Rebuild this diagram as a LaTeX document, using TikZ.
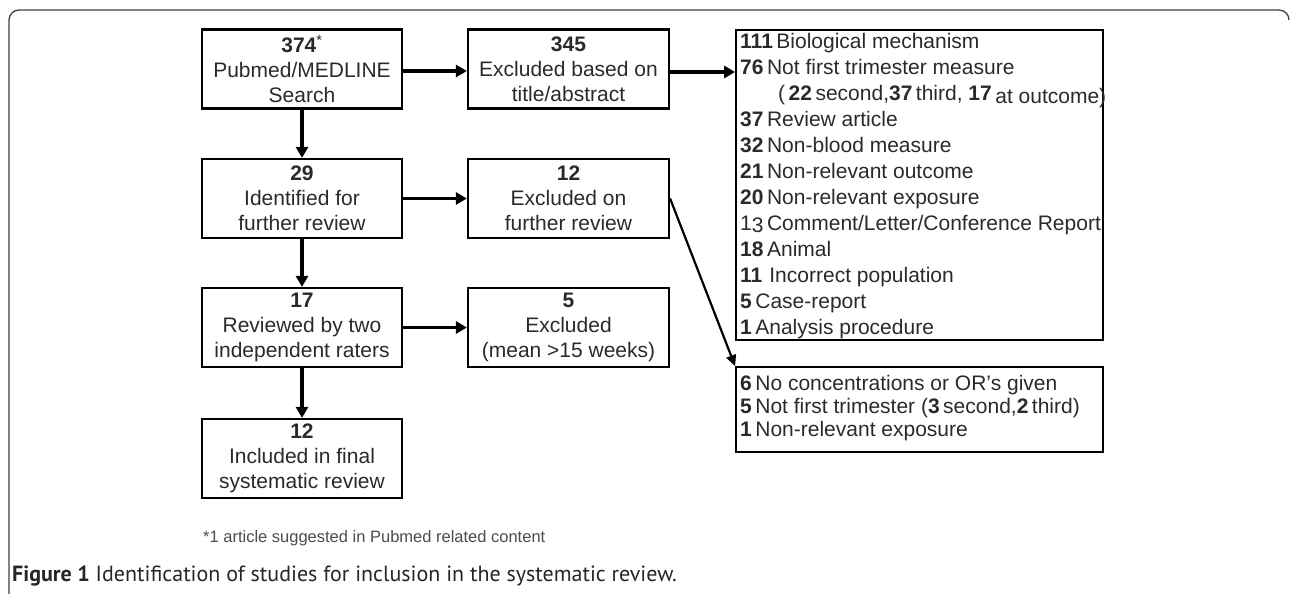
\documentclass[tikz,border=0pt]{standalone}
\usepackage{fontspec}
\setmainfont{Liberation Sans}
\newfontfamily\capfont{PT Sans}
\usetikzlibrary{arrows.meta}
\definecolor{txt}{HTML}{2A2A2A}
\tikzset{
  leftbox/.style={draw=black, line width=2.2pt, minimum width=200pt, minimum height=79pt,
    inner sep=0pt, align=center, text=txt, font=\fontsize{21}{25}\selectfont},
  listbox/.style={draw=black, line width=1.8pt, minimum width=367pt, inner sep=0pt,
    text=txt, font=\fontsize{21}{26}\selectfont},
  arr/.style={line width=3.5pt, -{Triangle[length=11pt,width=12pt]}},
  arrthin/.style={line width=2.2pt, -{Triangle[length=11pt,width=10pt]}},
}
\begin{document}
\begin{tikzpicture}[x=1pt,y=-1pt]
\useasboundingbox (0,0) rectangle (1290,594);
% frame
\draw[line width=1.3pt, black!75, rounded corners=10pt] (9,594) -- (9,10) -- (1289,10) -- (1289,20);
% left column
\node[leftbox] (b1) at (302,69) {\textbf{374}\textsuperscript{*}\\Pubmed/MEDLINE\\Search};
\node[leftbox] (b3) at (302,198.5) {\textbf{29}\\Identified for\\further review};
\node[leftbox] (b5) at (302,327.5) {\textbf{17}\\Reviewed by two\\independent raters};
\node[leftbox] (b7) at (302,458.5) {\textbf{12}\\Included in final\\systematic review};
% middle column
\node[leftbox, minimum width=201pt] (b2) at (568.5,69) {\textbf{345}\\Excluded based on\\title/abstract};
\node[leftbox, minimum width=201pt] (b4) at (568.5,198.5) {\textbf{12}\\Excluded on\\further review};
\node[leftbox, minimum width=201pt] (b6) at (568.5,327.5) {\textbf{5}\\Excluded\\(mean >15 weeks)};
% right boxes
\node[listbox, minimum height=310pt] (big) at (919.5,185) {};
\node[anchor=west, inner sep=0pt, text=txt, font=\fontsize{21}{26}\selectfont, align=left] (bigtext) at (740,186.5) {%
\textbf{111}\,Biological mechanism\\
\textbf{76}\,Not first trimester measure\\
\hspace*{38pt}(\,\textbf{22}\,second,\textbf{37}\,third, \textbf{17}\,\raisebox{-3pt}{at outcome)}\\
\textbf{37}\,Review article\\
\textbf{32}\,Non-blood measure\\
\textbf{21}\,Non-relevant outcome\\
\textbf{20}\,Non-relevant exposure\\
1\raisebox{-2pt}{3}\,Comment/Letter/Conference Report\\
\textbf{18}\,Animal\\
\textbf{11}\,\,Incorrect population\\
\textbf{5}\,Case-report\\
\textbf{1}\,Analysis procedure};
\node[listbox, minimum height=85pt] (low) at (919.5,409.5) {};
\node[anchor=west, inner sep=0pt, text=txt, font=\fontsize{21}{23}\selectfont, align=left] (lowtext) at (740,408.5) {%
\textbf{6}\,No concentrations or OR's given\\
\textbf{5}\,Not first trimester (\textbf{3}\,second,\textbf{2}\,third)\\
\textbf{1}\,Non-relevant exposure};
% connectors
\draw[arr] (b1.south) -- (b3.north);
\draw[arr] (b3.south) -- (b5.north);
\draw[arr] (b5.south) -- (b7.north);
\draw[arr] ([yshift=-2pt]b1.east) -- ([yshift=-2pt]b2.west);
\draw[arr] (b3.east) -- (b4.west);
\draw[arr] (b5.east) -- (b6.west);
\draw[arr] ([yshift=-3pt]b2.east) -- ([yshift=-3pt]b2.east -| big.west);
\draw[arrthin] (b4.east) -- (low.north west);
% footnote and caption
\node[anchor=west, inner sep=0pt, text=black!70, font=\fontsize{16.5}{18}\selectfont] (fn) at (203,538) {*1 article suggested in Pubmed related content};
\node[anchor=west, inner sep=0pt, text=black!85, font=\capfont\fontsize{22}{26}\selectfont] (cap) at (12,576) {\textbf{Figure 1} Identification of studies for inclusion in the systematic review.};
\end{tikzpicture}
\end{document}
